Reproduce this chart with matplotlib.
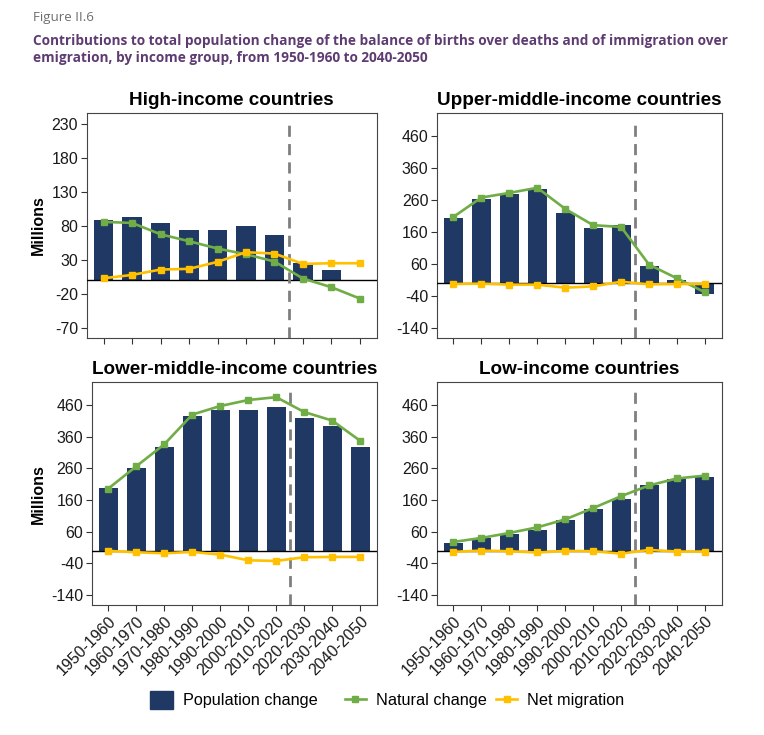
import matplotlib
matplotlib.use("Agg")
import matplotlib.pyplot as plt
from matplotlib.patches import Patch
from matplotlib.lines import Line2D
import numpy as np

periods = ["1950-1960", "1960-1970", "1970-1980", "1980-1990", "1990-2000",
           "2000-2010", "2010-2020", "2020-2030", "2030-2040", "2040-2050"]

high_pop = [88.7, 92.6, 83.8, 74.5, 73.5, 80.4, 66.7, 25, 14.7, -1.5]
high_nat = [85.8, 84.3, 67.6, 57.4, 46.6, 38.2, 27.5, 2.5, -10.3, -27]
high_mig = [2.9, 7.8, 15.7, 16.7, 27, 41.2, 39.2, 24, 25, 25]

upper_pop = [204, 264, 277, 295, 218, 171, 181, 52, 10.4, -34.5]
upper_nat = [207, 267.5, 282, 298, 232, 181, 175.5, 57.5, 14.6, -29]
upper_mig = [-3, -2, -5, -5, -14.6, -10.4, 4, -4, -3, -3]

lower_pop = [199, 261, 328, 426, 445, 446, 453, 418, 393, 329]
lower_nat = [196, 266.5, 336, 430, 457, 476, 485, 438, 411, 347]
lower_mig = [-1, -5.3, -8.5, -4.2, -12.7, -30.7, -32.8, -21, -20, -20]

low_pop = [24, 39, 52.5, 65, 96.6, 130, 162, 207, 225, 233]
low_nat = [27.3, 40, 55.7, 73.5, 98.7, 134.5, 172, 206, 228, 237]
low_mig = [-4, 0, -2, -6, -1, -2, -9.5, 2, -3, -3]

titles = ["High-income countries", "Upper-middle-income countries",
          "Lower-middle-income countries", "Low-income countries"]
ticks_high = [-70, -20, 30, 80, 130, 180, 230]
ticks_other = [-140, -40, 60, 160, 260, 360, 460]

NAVY = "#1f3864"
GREEN = "#70ad47"
YELLOW = "#ffc000"
PURPLE = "#5e3b71"

W, H = 764, 735
fig = plt.figure(figsize=(W / 100, H / 100), dpi=100)
fig.patch.set_facecolor("white")

def rect(x0, x1, y0, y1):
    return [x0 / W, 1 - y1 / H, (x1 - x0) / W, (y1 - y0) / H]

panels = [
    (rect(86.5, 377, 113, 338), high_pop, high_nat, high_mig, ticks_high, (-85, 246), -0.139, False, 0.955),
    (rect(436.7, 721.7, 113, 338), upper_pop, upper_nat, upper_mig, ticks_other, (-172, 532), None, False, 0.955),
    (rect(91.5, 377, 382.3, 605), lower_pop, lower_nat, lower_mig, ticks_other, (-172, 532), -0.159, True, 0.965),
    (rect(436.7, 721.7, 382.3, 605), low_pop, low_nat, low_mig, ticks_other, (-172, 532), None, True, 0.965),
]

FONT = "Liberation Sans"
TICK_FS = 11.5
x = np.arange(len(periods))
for (pos, pop, nat, mig, yt, yl, ylab, xlab, vtop), title in zip(panels, titles):
    ax = fig.add_axes(pos)
    ax.bar(x, pop, width=0.68, color=NAVY, zorder=2)
    ax.axhline(0, color="black", lw=1.0, zorder=3)
    ax.axvline(6.5, ymin=0, ymax=vtop, color="#7f7f7f", lw=2.0, ls=(0, (4, 2.6)), zorder=3)
    ax.plot(x, nat, color=GREEN, lw=1.9, marker="s", ms=5, zorder=4)
    ax.plot(x, mig, color=YELLOW, lw=1.9, marker="s", ms=5, zorder=5)
    ax.set_xlim(-0.6, 9.6)
    ax.set_ylim(*yl)
    ax.set_yticks(yt)
    ax.set_yticklabels([str(t) for t in yt], fontsize=TICK_FS, family=FONT, color="#1a1a1a")
    ax.set_xticks(x)
    if xlab:
        ax.set_xticklabels(periods, rotation=45, ha="right", rotation_mode="anchor",
                           fontsize=TICK_FS, family=FONT, color="#1a1a1a")
    else:
        ax.set_xticklabels([])
    ax.tick_params(length=4, width=0.8, color="#333333", pad=2)
    for s in ax.spines.values():
        s.set_color("#444444")
        s.set_linewidth(0.8)
    ax.set_title(title, fontsize=13.6, fontweight="bold", family=FONT, pad=6)
    if ylab is not None:
        ax.set_ylabel("Millions", fontsize=11.5, fontweight="bold", family=FONT)
        ax.yaxis.set_label_coords(ylab, 0.5)

fig.text(33 / W, 1 - 17 / H, "Figure II.6", fontsize=9.6, color="#6d6d6d",
         family="Open Sans", va="center", ha="left")
fig.text(33 / W, 1 - 41 / H,
         "Contributions to total population change of the balance of births over deaths and of immigration over",
         fontsize=9.8, color=PURPLE, fontweight="bold", family="Open Sans", va="center", ha="left")
fig.text(33 / W, 1 - 58 / H,
         "emigration, by income group, from 1950-1960 to 2040-2050",
         fontsize=9.8, color=PURPLE, fontweight="bold", family="Open Sans", va="center", ha="left")

LEG_FS = 11.7
items = [
    (Patch(facecolor=NAVY, edgecolor=NAVY), "Population change", 150, 1.4, 1.35),
    (Line2D([0], [0], color=GREEN, lw=1.9, marker="s", ms=4), "Natural change", 344.5, 1.32, 0.7),
    (Line2D([0], [0], color=YELLOW, lw=1.9, marker="s", ms=4), "Net migration", 496, 1.3, 0.7),
]
for h, lab, x0, hl, hh in items:
    fig.legend([h], [lab], loc="center left", bbox_to_anchor=(x0 / W, 1 - 700 / H),
               frameon=False, prop={"family": FONT, "size": LEG_FS},
               handlelength=hl, handleheight=hh, handletextpad=0.62,
               borderpad=0, borderaxespad=0)

fig.savefig("out.png", dpi=100, facecolor="white")
